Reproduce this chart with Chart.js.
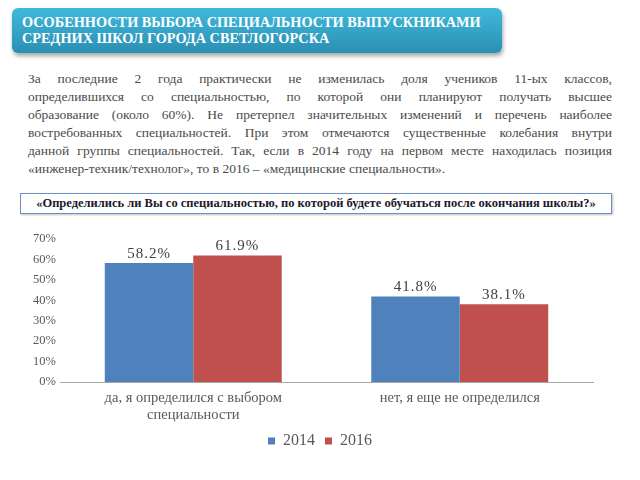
<!DOCTYPE html>
<html><head><meta charset="utf-8">
<script src="https://cdn.jsdelivr.net/npm/chart.js@4"></script>
<style>
html,body{margin:0;padding:0;background:#fff;width:640px;height:480px;overflow:hidden;font-family:'Liberation Serif',serif;}
#banner{position:absolute;left:12px;top:8px;width:490px;height:45px;border-radius:6px;
background:linear-gradient(#40b9db,#2a8fb3);box-shadow:1px 3px 4px rgba(0,0,0,0.35);}
#banner div{position:absolute;left:10px;top:6px;color:#fff;font-weight:bold;font-size:14.3px;line-height:16px;white-space:nowrap;font-family:'Liberation Serif',serif;}
#para{position:absolute;left:28px;top:70px;width:584px;color:#4a4a4a;font-size:13.5px;line-height:17.9px;font-family:'Liberation Serif',serif;}
#para div{text-align:justify;text-align-last:justify;white-space:nowrap;}
#para div.last{text-align-last:left;}
#q{position:absolute;left:20px;top:193px;width:590px;height:19px;border:1.5px solid #6f8fc0;box-shadow:1px 1px 2px rgba(0,0,0,0.25);
text-align:center;font-weight:bold;font-size:12.5px;line-height:19px;color:#1a1a2a;font-family:'Liberation Serif',serif;}
#wrap{position:absolute;left:0;top:225px;width:640px;height:234px;}
</style></head><body>
<div id="banner"><div>ОСОБЕННОСТИ ВЫБОРА СПЕЦИАЛЬНОСТИ ВЫПУСКНИКАМИ<br>СРЕДНИХ ШКОЛ ГОРОДА СВЕТЛОГОРСКА</div></div>
<div id="para">
<div>За последние 2 года практически не изменилась доля учеников 11-ых классов,</div>
<div>определившихся со специальностью, по которой они планируют получать высшее</div>
<div>образование (около 60%). Не претерпел значительных изменений и перечень наиболее</div>
<div>востребованных специальностей. При этом отмечаются существенные колебания внутри</div>
<div>данной группы специальностей. Так, если в 2014 году на первом месте находилась позиция</div>
<div class="last">«инженер-техник/технолог», то в 2016 – «медицинские специальности».</div>
</div>
<div id="q">«Определились ли Вы со специальностью, по которой будете обучаться после окончания школы?»</div>
<div id="wrap"><canvas id="c"></canvas></div>
<script>
const categories = [["да, я определился с выбором","специальности"],"нет, я еще не определился"];
const series2014 = [58.2, 41.8];
const series2016 = [61.9, 38.1];
const seriesNames = ["2014","2016"];
const yTicks = [0,10,20,30,40,50,60,70];

const serif = "'Liberation Serif', serif";
const labelPlugin = {
  id:'valLabels',
  afterLayout(chart){
    const lg = chart.legend;
    if (lg) { const shift = (chart.width - lg.right) / 2; lg.left += shift; lg.right += shift; }
  },
  afterDatasetsDraw(chart){
    const ctx = chart.ctx;
    ctx.save();
    ctx.font = "15px 'Liberation Serif', serif";
    try { ctx.letterSpacing = '1px'; } catch(e) {}
    ctx.fillStyle = '#404040';
    ctx.textAlign = 'center';
    ctx.textBaseline = 'bottom';
    chart.data.datasets.forEach((ds,i)=>{
      chart.getDatasetMeta(i).data.forEach((bar,j)=>{
        ctx.fillText(ds.data[j].toFixed(1)+'%', bar.x, bar.y - 2);
      });
    });
    ctx.restore();
  }
};
new Chart(document.getElementById('c'), {
  type:'bar',
  data:{labels:categories, datasets:[
    {label:seriesNames[0], data:series2014, backgroundColor:'#4f81bd', categoryPercentage:0.664, barPercentage:1},
    {label:seriesNames[1], data:series2016, backgroundColor:'#c0504d', categoryPercentage:0.664, barPercentage:1}
  ]},
  options:{
    responsive:true, maintainAspectRatio:false, animation:false,
    layout:{padding:{left:0,right:47,top:14,bottom:0}},
    plugins:{
      tooltip:{enabled:false},
      legend:{position:'bottom',labels:{boxWidth:7,boxHeight:7,font:{family:serif,size:16},color:'#595959',padding:10}}
    },
    scales:{
      y:{min:0,max:70,afterBuildTicks(s){s.ticks=yTicks.map(v=>({value:v}));},
        afterFit(s){s.width=60;},
        grid:{display:false,drawTicks:false}, border:{display:false},
        ticks:{padding:4,font:{family:serif,size:12.5},color:'#595959',callback:v=>v+'%'}},
      x:{grid:{display:false,drawTicks:false}, border:{display:true,color:'#a6a6a6',width:1},
        afterFit(s){s.height=41;},
        ticks:{padding:7,font:{family:serif,size:14.5},color:'#595959',maxRotation:0}}
    }
  },
  plugins:[labelPlugin]
});
</script>
</body></html>
